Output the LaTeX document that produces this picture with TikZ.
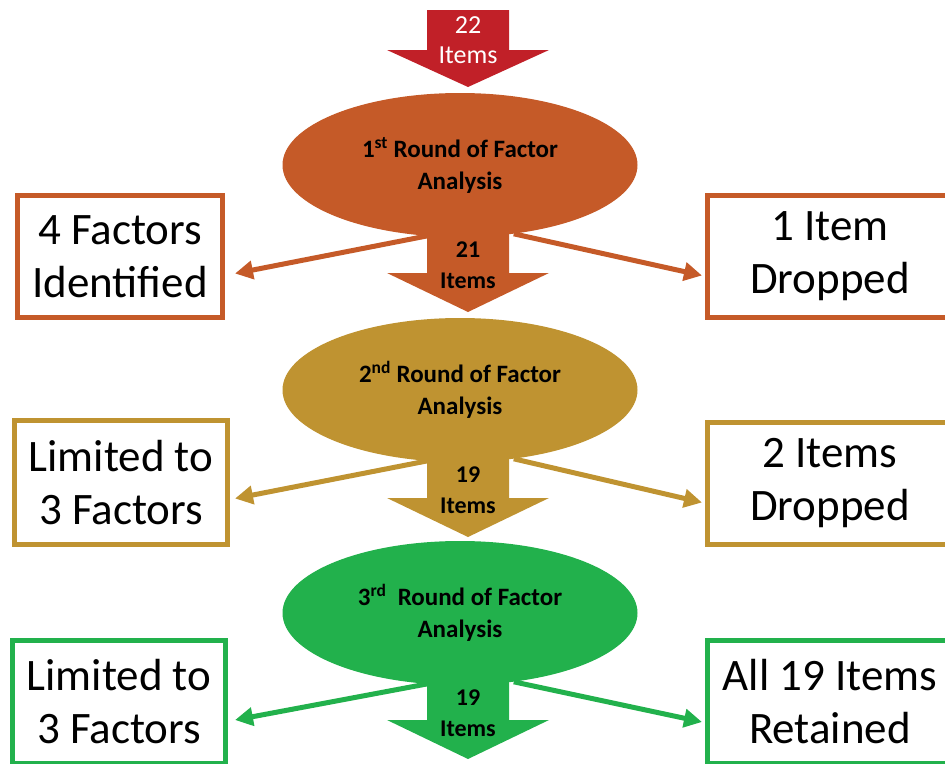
\documentclass[tikz,border=0pt]{standalone}
\usepackage{fontspec}
\setmainfont{Carlito}
\usetikzlibrary{arrows.meta,shapes.geometric,backgrounds}
\definecolor{cRed}{RGB}{193,32,40}
\definecolor{cOrange}{RGB}{197,90,40}
\definecolor{cGold}{RGB}{191,147,49}
\definecolor{cGreen}{RGB}{34,177,76}
\newcommand\flowarrow[4]{%
  \fill[#4] (427,#1) -- (509,#1) -- (509,#2) -- (549,#2) -- (468,#3) -- (387,#2) -- (427,#2) -- cycle;}
\tikzset{
  levelbox/.style={draw=#1, line width=5pt, fill=white, inner sep=0pt, align=center,
    font=\fontsize{45}{53}\selectfont, text=black},
  roundnode/.style={ellipse, fill=#1, minimum width=355pt, minimum height=144pt,
    inner sep=0pt, align=center, font=\bfseries\fontsize{25}{32}\selectfont},
  sidearrow/.style={draw=#1, line width=5pt, -{Triangle[length=18pt,width=18pt]}},
  countlabel/.style={align=center, font=\bfseries\fontsize{24}{31}\selectfont},
}
\begin{document}
\begin{tikzpicture}[x=1pt,y=-1pt]
\useasboundingbox (0,0) rectangle (945,763);

% ellipses
\node[roundnode=cOrange] (e1) at (460,165) {1\textsuperscript{st} Round of Factor\\Analysis};
\node[roundnode=cGold]   (e2) at (460,390) {2\textsuperscript{nd} Round of Factor\\Analysis};
\node[roundnode=cGreen]  (e3) at (460,613) {3\textsuperscript{rd}~ Round of Factor\\Analysis};

% boxes
\node[levelbox=cOrange, minimum width=205pt, minimum height=122pt] (L1) at (120,256.5) {4 Factors\\Identified};
\node[levelbox=cOrange, minimum width=245pt, minimum height=122pt] (R1) at (830,256.5) {1 Item\\Dropped};
\node[levelbox=cGold, minimum width=213pt, minimum height=124pt] (L2) at (121,482.5) {Limited to\\3 Factors};
\node[levelbox=cGold, minimum width=245pt, minimum height=122pt] (R2) at (830,483.5) {2 Items\\Dropped};
\node[levelbox=cGreen, minimum width=213pt, minimum height=123pt] (L3) at (119,702) {Limited to\\3 Factors};
\node[levelbox=cGreen, minimum width=245pt, minimum height=123pt] (R3) at (830,702) {All 19 Items\\Retained};

\begin{scope}[on background layer]
  \flowarrow{10}{50}{87}{cRed}
  \flowarrow{200}{273}{312}{cOrange}
  \flowarrow{420}{498}{537}{cGold}
  \flowarrow{640}{720}{759}{cGreen}
  \draw[sidearrow=cOrange] (e1.245) -- ([xshift=10pt,yshift=-17pt]L1.east);
  \draw[sidearrow=cOrange] (e1.308) -- ([xshift=-3pt,yshift=-19pt]R1.west);
  \draw[sidearrow=cGold] (e2.245) -- ([xshift=5pt,yshift=-16pt]L2.east);
  \draw[sidearrow=cGold] (e2.308) -- ([xshift=-3pt,yshift=-19pt]R2.west);
  \draw[sidearrow=cGreen] (e3.245) -- ([xshift=7pt,yshift=-18pt]L3.east);
  \draw[sidearrow=cGreen] (e3.308) -- ([xshift=-3pt,yshift=-20pt]R3.west);
\end{scope}

% arrow labels
\node[font=\fontsize{26}{30}\selectfont, text=white, align=center] (n22) at (468,40) {22\\Items};
\node[countlabel] (n21) at (468,265) {21\\Items};
\node[countlabel] (n19a) at (468,490) {19\\Items};
\node[countlabel] (n19b) at (468,713) {19\\Items};
\end{tikzpicture}
\end{document}
